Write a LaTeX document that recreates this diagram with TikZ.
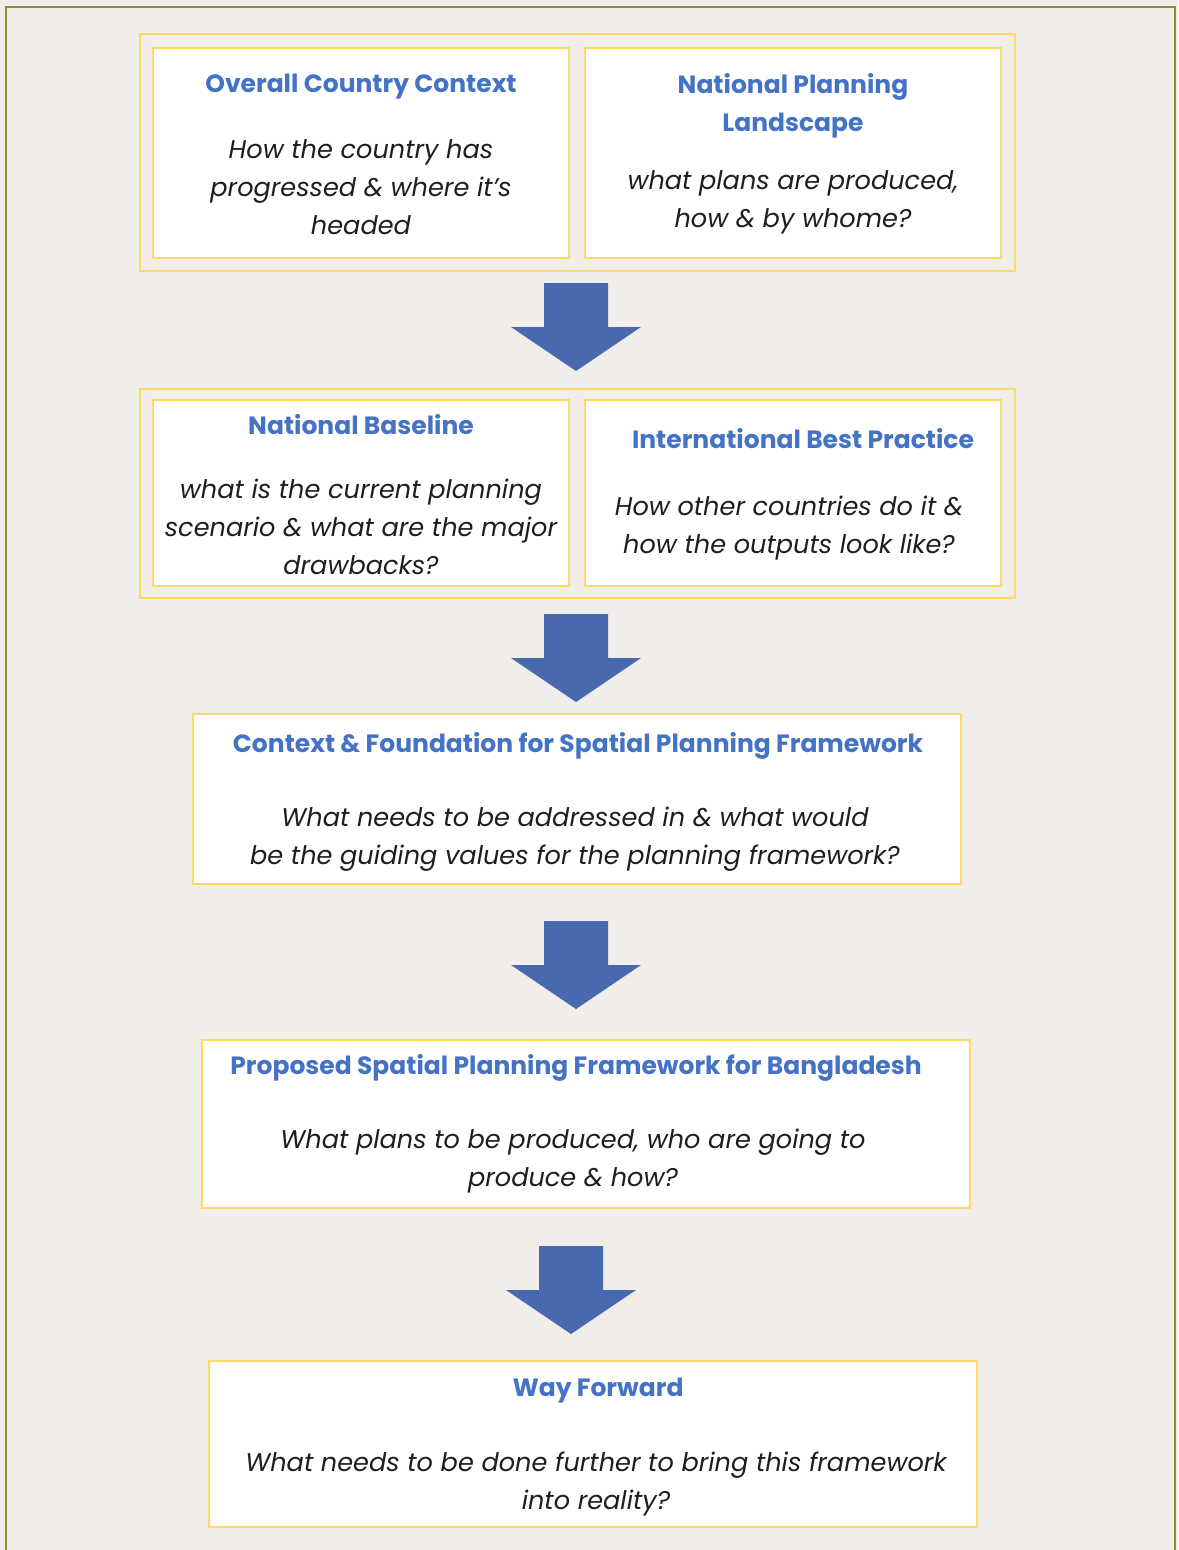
\documentclass[tikz,border=0pt]{standalone}
\usepackage{fontspec}
\setmainfont{Poppins}
\definecolor{paper}{RGB}{241,238,234}
\definecolor{olive}{RGB}{139,139,48}
\definecolor{gold}{RGB}{255,217,102}
\definecolor{titleblue}{RGB}{68,114,196}
\definecolor{arrowblue}{RGB}{72,104,176}
\definecolor{ink}{RGB}{30,30,30}
\tikzset{
  box/.style={draw=gold, line width=2.5pt, fill=white, inner sep=0pt},
  group/.style={draw=gold, line width=2.5pt, inner sep=0pt},
  ttl/.style={text=titleblue, font=\fontsize{25}{38}\selectfont\bfseries, align=center},
  body/.style={text=ink, font=\fontsize{25.6}{38}\selectfont\itshape, align=center},
}
% block arrow pointing down: shaft top centre (#1,#2)
\newcommand{\downblock}[2]{%
  \fill[arrowblue] (#1-32,#2) -- (#1+32,#2) -- (#1+32,#2+44) -- (#1+65,#2+44)
    -- (#1,#2+88) -- (#1-65,#2+44) -- (#1-32,#2+44) -- cycle;}
\begin{document}
\begin{tikzpicture}[x=1pt,y=-1pt]
\useasboundingbox (0,0) rectangle (1178,1550);
\fill[paper] (0,0) rectangle (1178,1550);
\draw[olive, line width=2.5pt] (6,1552) -- (6,7) -- (1175,7) -- (1175,1552);

% first row
\draw[group] (140,34) rectangle (1015,271);
\draw[box] (153,48) rectangle (569,258);
\draw[box] (585,48) rectangle (1001,258);
\node[ttl] (t1a) at (361,87) {Overall Country Context};
\node[body, anchor=north] (b1a) at (361,136) {How the country has\\progressed \& where it’s\\headed};
\node[ttl, anchor=north] (t1b) at (793,70) {National Planning\\Landscape};
\node[body, anchor=north] (b1b) at (793,167) {what plans are produced,\\how \& by whome?};

\downblock{576}{283}

% second row
\draw[group] (140,389) rectangle (1015,598);
\draw[box] (153,400) rectangle (569,586);
\draw[box] (585,400) rectangle (1001,586);
\node[ttl] (t2a) at (361,425) {National Baseline};
\node[body, anchor=north] (b2a) at (361,475) {what is the current planning\\scenario \& what are the major\\drawbacks?};
\node[ttl] (t2b) at (803,439) {International Best Practice};
\node[body, anchor=north] (b2b) at (789,492) {How other countries do it \&\\how the outputs look like?};

\downblock{576}{614}

% third box
\draw[box] (193,714) rectangle (961,884);
\node[ttl] (t3) at (578,746) {Context \& Foundation for Spatial Planning Framework};
\node[body, anchor=north] (b3) at (575,803) {What needs to be addressed in \& what would\\be the guiding values for the planning framework?};

\downblock{576}{921}

% fourth box
\draw[box] (202,1040) rectangle (970,1208);
\node[ttl] (t4) at (576,1068) {Proposed Spatial Planning Framework for Bangladesh};
\node[body, anchor=north] (b4) at (573,1125) {What plans to be produced, who are going to\\produce \& how?};

\downblock{571}{1246}

% fifth box
\draw[box] (209,1361) rectangle (977,1527);
\node[ttl] (t5) at (598,1391) {Way Forward};
\node[body, anchor=north] (b5) at (596,1448) {What needs to be done further to bring this framework\\into reality?};
\end{tikzpicture}
\end{document}
